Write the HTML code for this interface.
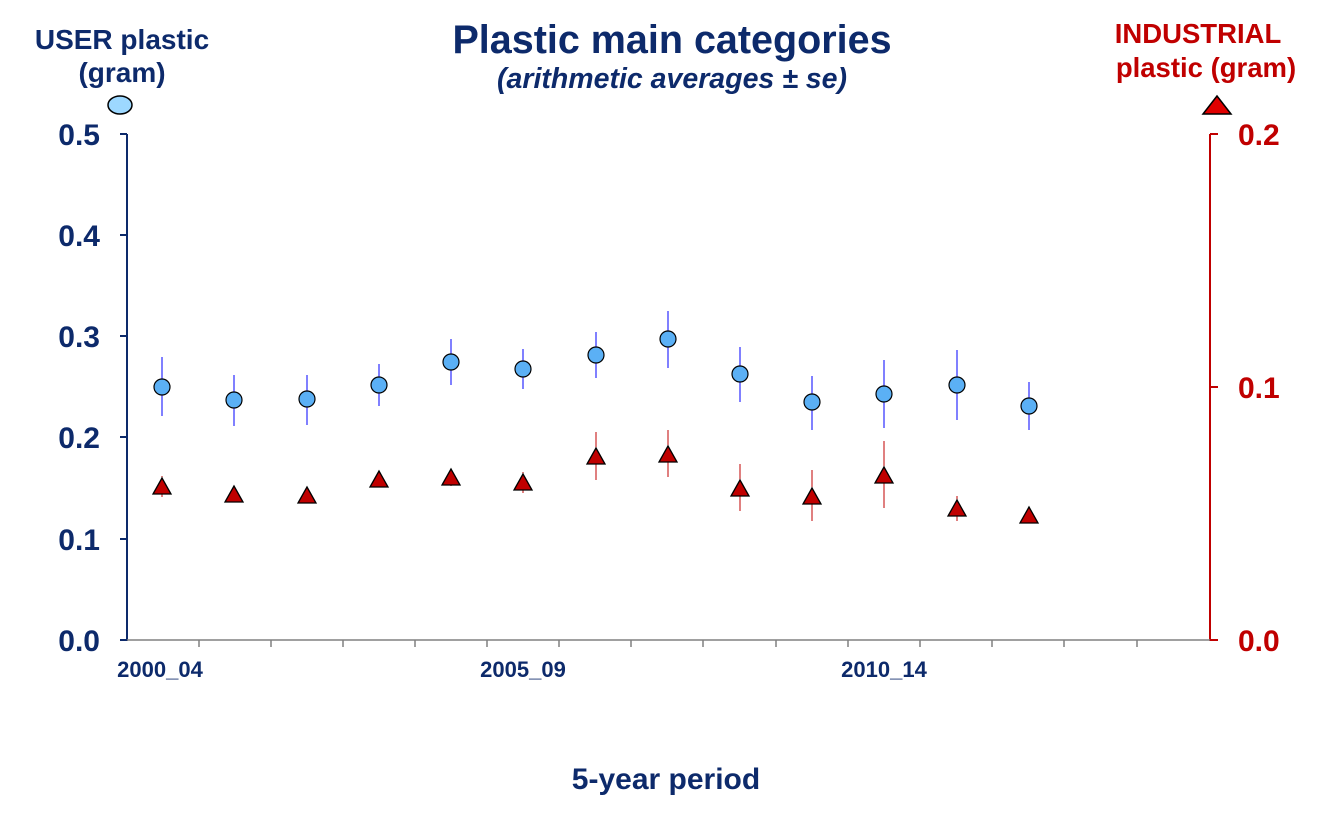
<!DOCTYPE html>
<html><head><meta charset="utf-8"><style>
body{margin:0;background:#fff;}
svg{display:block;font-family:"Liberation Sans",Arial,sans-serif;font-weight:bold;}
</style></head><body>
<svg width="1344" height="818" viewBox="0 0 1344 818" xmlns="http://www.w3.org/2000/svg">
<text x="672" y="53" text-anchor="middle" font-size="39.5" fill="#0D2A6B">Plastic main categories</text>
<text x="672" y="88" text-anchor="middle" font-size="28.5" font-style="italic" fill="#0D2A6B">(arithmetic averages ± se)</text>
<text x="122" y="49" text-anchor="middle" font-size="28" fill="#0D2A6B">USER plastic</text>
<text x="122" y="82" text-anchor="middle" font-size="28" fill="#0D2A6B">(gram)</text>
<ellipse cx="120" cy="105" rx="12" ry="9" fill="#9DD8FF" stroke="#000" stroke-width="1.5"/>
<text x="1198" y="43" text-anchor="middle" font-size="27.5" fill="#C00000">INDUSTRIAL</text>
<text x="1206" y="77" text-anchor="middle" font-size="27.5" fill="#C00000">plastic (gram)</text>
<polygon points="1217,96 1203,114 1231,114" fill="#E00000" stroke="#000" stroke-width="1.5"/>
<text x="666" y="789" text-anchor="middle" font-size="30" fill="#0D2A6B">5-year period</text>
<g stroke="#0D2A6B" stroke-width="2">
<line x1="127" y1="134" x2="127" y2="641"/>
<line x1="120" y1="134" x2="127" y2="134"/><line x1="120" y1="235" x2="127" y2="235"/><line x1="120" y1="336" x2="127" y2="336"/><line x1="120" y1="437" x2="127" y2="437"/><line x1="120" y1="539" x2="127" y2="539"/><line x1="120" y1="640" x2="127" y2="640"/>
</g>
<g font-size="30" fill="#0D2A6B" text-anchor="end">
<text x="100" y="145">0.5</text><text x="100" y="246">0.4</text><text x="100" y="347">0.3</text><text x="100" y="448">0.2</text><text x="100" y="550">0.1</text><text x="100" y="651">0.0</text>
</g>
<g stroke="#C00000" stroke-width="2">
<line x1="1210" y1="134" x2="1210" y2="641"/>
<line x1="1210" y1="134" x2="1218" y2="134"/><line x1="1210" y1="387" x2="1218" y2="387"/><line x1="1210" y1="640" x2="1218" y2="640"/>
</g>
<g font-size="30" fill="#C00000">
<text x="1238" y="145">0.2</text><text x="1238" y="398">0.1</text><text x="1238" y="651">0.0</text>
</g>
<line x1="127" y1="640" x2="1210" y2="640" stroke="#808080" stroke-width="1.5"/>
<g stroke="#808080" stroke-width="1.5">
<line x1="199" y1="640" x2="199" y2="647"/><line x1="271" y1="640" x2="271" y2="647"/><line x1="343" y1="640" x2="343" y2="647"/><line x1="415" y1="640" x2="415" y2="647"/><line x1="487" y1="640" x2="487" y2="647"/><line x1="559" y1="640" x2="559" y2="647"/><line x1="631" y1="640" x2="631" y2="647"/><line x1="703" y1="640" x2="703" y2="647"/><line x1="776" y1="640" x2="776" y2="647"/><line x1="848" y1="640" x2="848" y2="647"/><line x1="920" y1="640" x2="920" y2="647"/><line x1="992" y1="640" x2="992" y2="647"/><line x1="1064" y1="640" x2="1064" y2="647"/><line x1="1137" y1="640" x2="1137" y2="647"/>
</g>
<g font-size="22" fill="#0D2A6B" text-anchor="middle">
<text x="160" y="677">2000_04</text><text x="523" y="677">2005_09</text><text x="884" y="677">2010_14</text>
</g>
<g stroke="#C00000" stroke-width="1">
<line x1="162" y1="476" x2="162" y2="497"/><line x1="234" y1="489" x2="234" y2="500"/><line x1="307" y1="490" x2="307" y2="501"/><line x1="379" y1="474" x2="379" y2="487"/><line x1="451" y1="470" x2="451" y2="486"/><line x1="523" y1="472" x2="523" y2="493"/><line x1="596" y1="432" x2="596" y2="480"/><line x1="668" y1="430" x2="668" y2="477"/><line x1="740" y1="464" x2="740" y2="511"/><line x1="812" y1="470" x2="812" y2="521"/><line x1="884" y1="441" x2="884" y2="508"/><line x1="957" y1="496" x2="957" y2="521"/><line x1="1029" y1="510" x2="1029" y2="522"/>
</g>
<g fill="#C00000" stroke="#000" stroke-width="1.3">
<polygon points="162,478 153,494 171,494"/><polygon points="234,486 225,502 243,502"/><polygon points="307,487 298,503 316,503"/><polygon points="379,471 370,487 388,487"/><polygon points="451,469 442,485 460,485"/><polygon points="523,474 514,490 532,490"/><polygon points="596,448 587,464 605,464"/><polygon points="668,446 659,462 677,462"/><polygon points="740,480 731,496 749,496"/><polygon points="812,488 803,504 821,504"/><polygon points="884,467 875,483 893,483"/><polygon points="957,500 948,516 966,516"/><polygon points="1029,507 1020,523 1038,523"/>
</g>
<g stroke="#0000FF" stroke-width="1">
<line x1="162" y1="357" x2="162" y2="416"/><line x1="234" y1="375" x2="234" y2="426"/><line x1="307" y1="375" x2="307" y2="425"/><line x1="379" y1="364" x2="379" y2="406"/><line x1="451" y1="339" x2="451" y2="385"/><line x1="523" y1="349" x2="523" y2="389"/><line x1="596" y1="332" x2="596" y2="378"/><line x1="668" y1="311" x2="668" y2="368"/><line x1="740" y1="347" x2="740" y2="402"/><line x1="812" y1="376" x2="812" y2="430"/><line x1="884" y1="360" x2="884" y2="428"/><line x1="957" y1="350" x2="957" y2="420"/><line x1="1029" y1="382" x2="1029" y2="430"/>
</g>
<g fill="#5BB0F5" stroke="#000" stroke-width="1.2">
<circle cx="162" cy="387" r="8"/><circle cx="234" cy="400" r="8"/><circle cx="307" cy="399" r="8"/><circle cx="379" cy="385" r="8"/><circle cx="451" cy="362" r="8"/><circle cx="523" cy="369" r="8"/><circle cx="596" cy="355" r="8"/><circle cx="668" cy="339" r="8"/><circle cx="740" cy="374" r="8"/><circle cx="812" cy="402" r="8"/><circle cx="884" cy="394" r="8"/><circle cx="957" cy="385" r="8"/><circle cx="1029" cy="406" r="8"/>
</g>
</svg>
</body></html>
